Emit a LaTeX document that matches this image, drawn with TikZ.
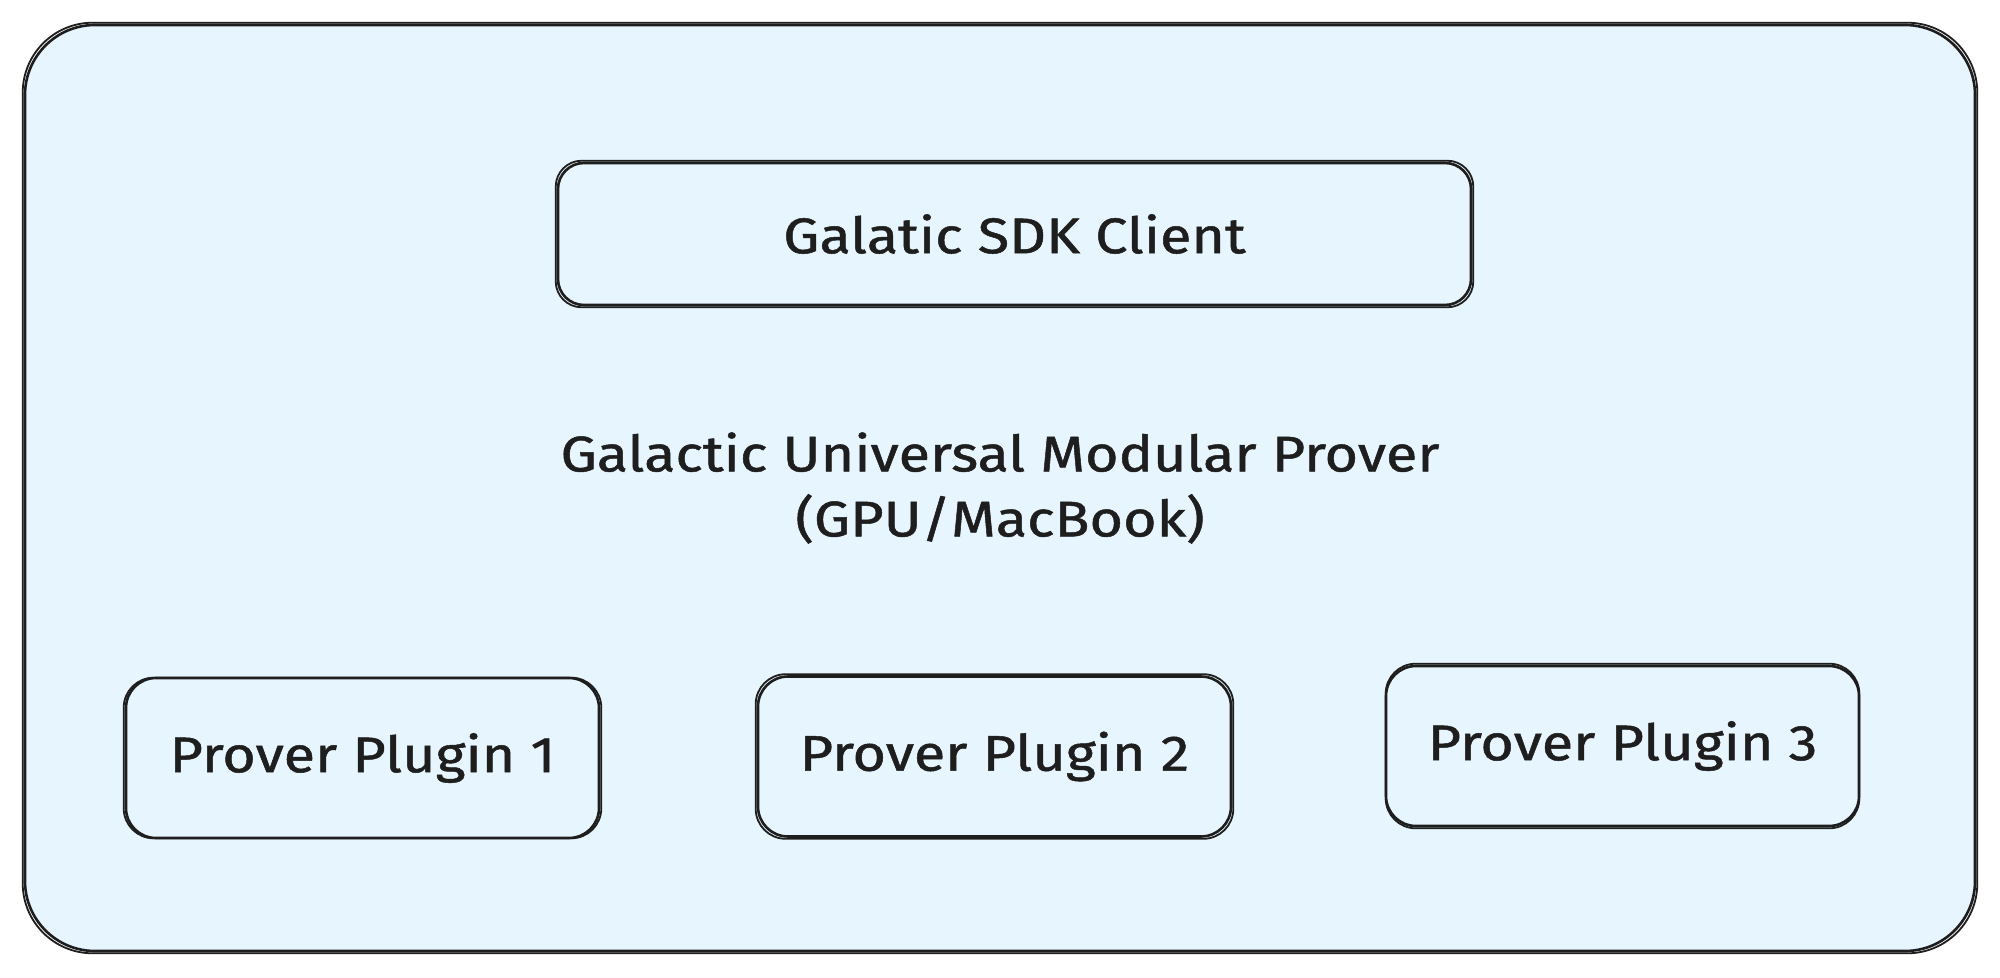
\documentclass[tikz,border=0pt]{standalone}
\usepackage{fontspec}
\setmainfont[FakeStretch=1.15,FakeBold=1]{Fira Sans}
\definecolor{fillblue}{HTML}{E7F5FF}
\definecolor{ink}{HTML}{1E1E1E}
\begin{document}
\begin{tikzpicture}[x=0.5pt,y=-0.5pt,
  box/.style={draw=ink, line width=1.3pt, fill=fillblue, inner sep=0pt, text=ink, align=center,
    font=\fontsize{25}{32.5}\selectfont},
  outerbox/.style={box, rounded corners=35pt, minimum width=975pt, minimum height=463pt},
  sdkbox/.style={box, rounded corners=13pt, minimum width=456.5pt, minimum height=71pt},
  plugbox/.style={box, rounded corners=15pt, minimum width=236.5pt, minimum height=80pt},
  sketch/.style={draw=ink, line width=0.9pt}]
\useasboundingbox[fill=white] (0,0) rectangle (2000,978);

\node[outerbox] (gump) at (1000,488) {Galactic Universal Modular Prover\\(GPU/MacBook)};
\draw[sketch, rounded corners=35pt] ([shift={(-1,-1)}]gump.north west) rectangle ([shift={(1,1)}]gump.south east);

\node[sdkbox] (sdk) at (1014.5,234) {Galatic SDK Client};
\draw[sketch, rounded corners=13pt] ([shift={(-1,-1)}]sdk.north west) rectangle ([shift={(1,1)}]sdk.south east);

\node[plugbox] (p1) at (362.5,758) {Prover Plugin 1};
\draw[sketch, rounded corners=15pt] ([shift={(-1,1)}]p1.north west) rectangle ([shift={(1,-1)}]p1.south east);

\node[plugbox] (p2) at (994.5,756.5) {Prover Plugin 2};
\draw[sketch, rounded corners=15pt] ([shift={(-1,-1)}]p2.north west) rectangle ([shift={(1,1)}]p2.south east);

\node[plugbox] (p3) at (1622.5,746) {Prover Plugin 3};
\draw[sketch, rounded corners=15pt] ([shift={(1,-1)}]p3.north west) rectangle ([shift={(-1,1)}]p3.south east);
\end{tikzpicture}
\end{document}
